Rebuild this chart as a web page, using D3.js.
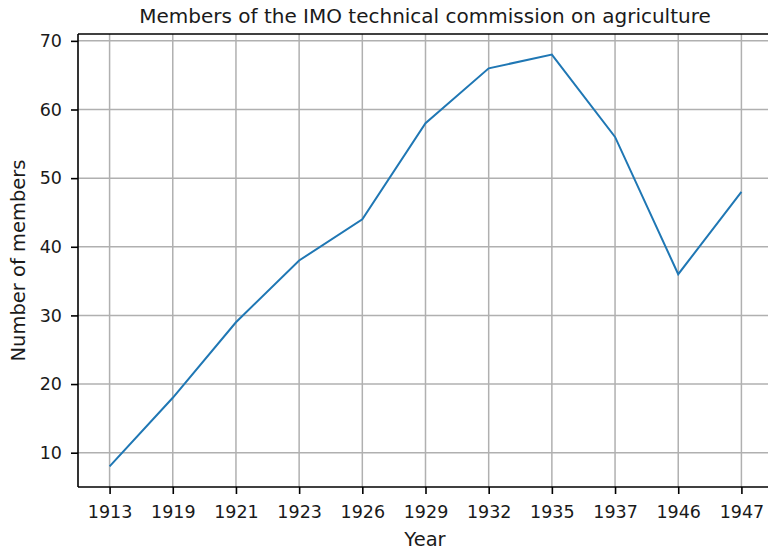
<!DOCTYPE html>
<html>
<head>
<meta charset="utf-8">
<script src="https://cdn.jsdelivr.net/npm/d3@7"></script>
<style>
  body { margin: 0; background: #fff; }
  svg { font-family: "DejaVu Sans", sans-serif; }
</style>
</head>
<body>
<div class="chart"></div>
<script>
// Data.
var years = ["1913", "1919", "1921", "1923", "1926", "1929", "1932", "1935", "1937", "1946", "1947"];
var members = [8, 18, 29, 38, 44, 58, 66, 68, 56, 36, 48];
var yTicks = [10, 20, 30, 40, 50, 60, 70];

var w = 768,
    h = 553;

var mLeft = 78, mRight = 773, mTop = 34, mBottom = 487;

var svg = d3.select(".chart").append("svg")
  .attr("width", w)
  .attr("height", h);

var xScale = d3.scalePoint()
  .domain(years)
  .range([mLeft, mRight])
  .padding(0.5);

var yScale = d3.scaleLinear()
  .domain([5, 71])
  .range([mBottom, mTop]);

// Grid lines
svg.append("g")
  .selectAll("line")
  .data(years)
  .enter()
  .append("line")
  .attr("x1", function(d) { return xScale(d); })
  .attr("x2", function(d) { return xScale(d); })
  .attr("y1", mTop)
  .attr("y2", mBottom)
  .attr("stroke", "#b0b0b0")
  .attr("stroke-width", 1.5);

svg.append("g")
  .selectAll("line")
  .data(yTicks)
  .enter()
  .append("line")
  .attr("x1", mLeft)
  .attr("x2", mRight)
  .attr("y1", function(d) { return yScale(d); })
  .attr("y2", function(d) { return yScale(d); })
  .attr("stroke", "#b0b0b0")
  .attr("stroke-width", 1.5);

// Line
var line = d3.line()
  .x(function(d, i) { return xScale(years[i]); })
  .y(function(d) { return yScale(d); });

svg.append("path")
  .datum(members)
  .attr("d", line)
  .attr("fill", "none")
  .attr("stroke", "#1f77b4")
  .attr("stroke-width", 2);

// Axes
var xAxis = d3.axisBottom(xScale).tickSize(7).tickPadding(12).tickSizeOuter(0);
var yAxis = d3.axisLeft(yScale).tickValues(yTicks).tickSize(7).tickPadding(9).tickSizeOuter(0);

var gx = svg.append("g")
  .attr("transform", "translate(0," + mBottom + ")")
  .call(xAxis);
var gy = svg.append("g")
  .attr("transform", "translate(" + mLeft + ",0)")
  .call(yAxis);

[gx, gy].forEach(function(g) {
  g.select(".domain").remove();
  g.selectAll(".tick line").attr("stroke", "#000").attr("stroke-width", 1.6);
  g.selectAll(".tick text")
    .attr("fill", "#1a1a1a")
    .style("font-size", "17.5px")
    .style("font-family", "DejaVu Sans");
});

// Spines
svg.append("line")
  .attr("x1", mLeft).attr("x2", mRight)
  .attr("y1", mTop).attr("y2", mTop)
  .attr("stroke", "#000").attr("stroke-width", 1.6);
svg.append("line")
  .attr("x1", mLeft).attr("x2", mRight)
  .attr("y1", mBottom).attr("y2", mBottom)
  .attr("stroke", "#000").attr("stroke-width", 1.6);
svg.append("line")
  .attr("x1", mLeft).attr("x2", mLeft)
  .attr("y1", mTop).attr("y2", mBottom)
  .attr("stroke", "#000").attr("stroke-width", 1.6);

// Title and labels
svg.append("text")
  .attr("x", 425)
  .attr("y", 23)
  .style("text-anchor", "middle")
  .style("font-size", "20px")
  .attr("fill", "#1a1a1a")
  .text("Members of the IMO technical commission on agriculture");

svg.append("text")
  .attr("x", 425)
  .attr("y", 546)
  .style("text-anchor", "middle")
  .style("font-size", "19.5px")
  .attr("fill", "#1a1a1a")
  .text("Year");

svg.append("text")
  .attr("transform", "translate(25," + ((mTop + mBottom) / 2) + ") rotate(-90)")
  .style("text-anchor", "middle")
  .style("font-size", "19.5px")
  .attr("fill", "#1a1a1a")
  .text("Number of members");
</script>
</body>
</html>
